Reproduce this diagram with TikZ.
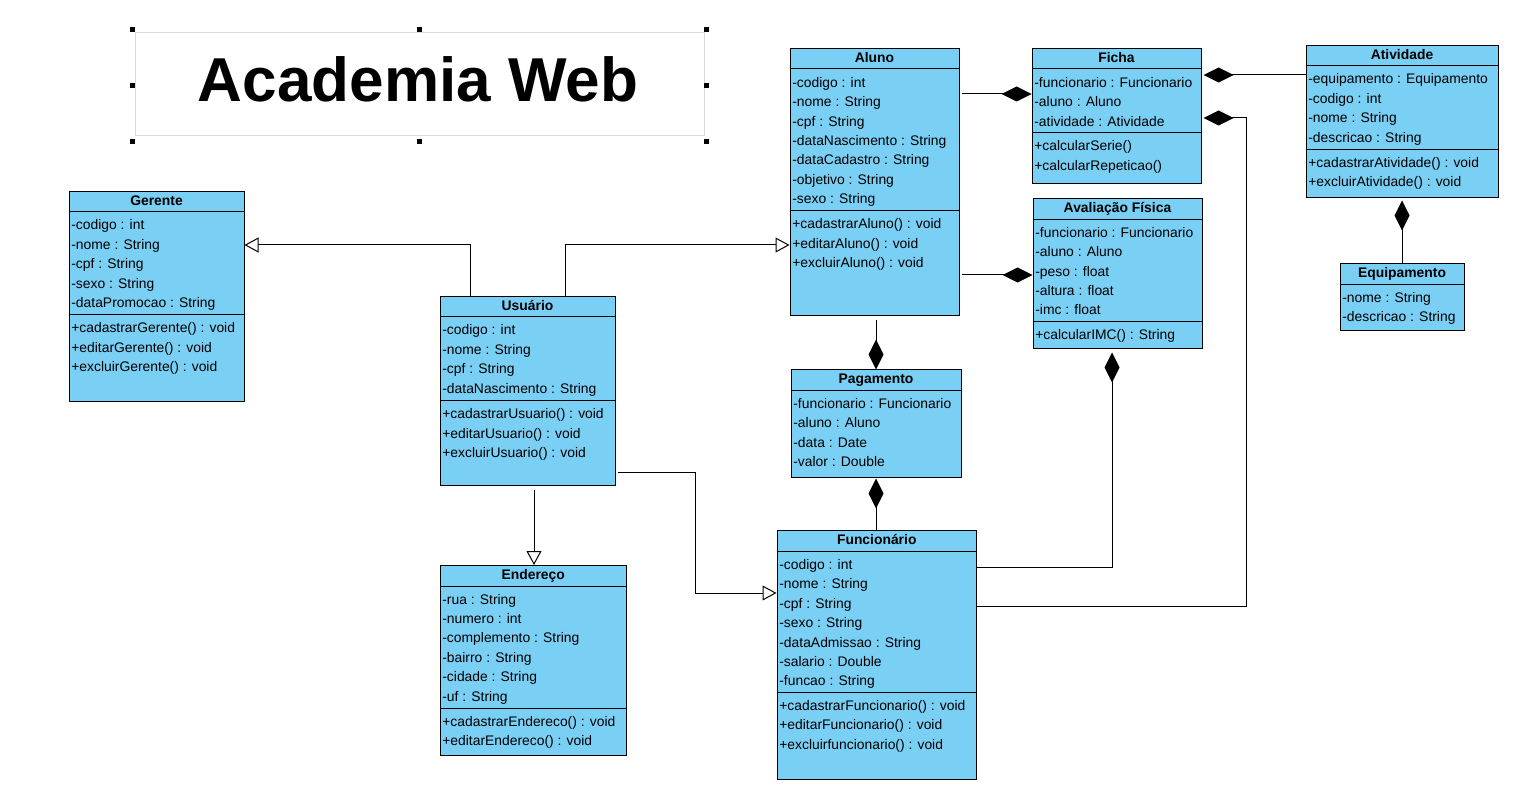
\documentclass[tikz,border=0pt]{standalone}
\usepackage{fontspec}
\setmainfont{Liberation Sans}
\usetikzlibrary{arrows.meta,calc,fit}
\definecolor{classblue}{RGB}{122,207,245}
\definecolor{framegray}{RGB}{217,217,217}
% rows of a compartment: prefix, x, first baseline, list
\newcommand{\umlrows}[4]{%
  \foreach \lbl [count=\i from 0] in {#4} {\node[row] (#1-\i) at (#2,{#3+19.4*\i}) {\lbl};}}

\begin{document}
\begin{tikzpicture}[x=0.2mm, y=-0.2mm,
    box/.style = {draw, fill=classblue, inner sep=0, line width=0.2mm},
    head/.style = {anchor=base, inner sep=0, font=\fontsize{7.9}{9}\selectfont\bfseries},
    row/.style = {anchor=base west, inner sep=0, font=\fontsize{7.9}{9}\selectfont},
    divider/.style = {line width=0.2mm},
    gen/.style = {line width=0.2mm, -{Triangle[fill=white, length=2.8mm, width=3mm]}},
    comp/.style = {line width=0.2mm, {Diamond[length=6mm, width=3mm]}-}]
    \useasboundingbox (0,0) rectangle (1517,788);
    % title
    \node[draw=framegray, line width=0.2mm, inner sep=0, fit={(135,33) (704,136)}] (frame) {};
    \node[font=\fontsize{35.3}{40}\selectfont\bfseries] (title) at (418,79) {Academia Web};
    \node[inner sep=0, fit={(133,30) (706,141)}] (handles) {};
    \foreach \a in {north west,north,north east,west,east,south west,south,south east}
        \fill (handles.\a) ++(-2.5,-2.5) rectangle ++(5,5);
    % Gerente
    \node[box, fit={(69,192) (244,402)}] (gerente) {};
    \node[head] (gerente-t) at ($(gerente.north)+(0,14.5)$) {Gerente};
    \draw[divider] (gerente.west |- 0,212) -- (gerente.east |- 0,212);
    \draw[divider] (gerente.west |- 0,315) -- (gerente.east |- 0,315);
    \umlrows{gerente-a}{71}{230}{-codigo : int, -nome : String, -cpf : String, -sexo : String, -dataPromocao : String}
    \umlrows{gerente-m}{71}{333}{+cadastrarGerente() : void, +editarGerente() : void, +excluirGerente() : void}
    % Usuario
    \node[box, fit={(440,297) (615,486)}] (usuario) {};
    \node[head] (usuario-t) at ($(usuario.north)+(0,14.5)$) {Usuário};
    \draw[divider] (usuario.west |- 0,317) -- (usuario.east |- 0,317);
    \draw[divider] (usuario.west |- 0,401) -- (usuario.east |- 0,401);
    \umlrows{usuario-a}{442}{335}{-codigo : int, -nome : String, -cpf : String, -dataNascimento : String}
    \umlrows{usuario-m}{442}{419}{+cadastrarUsuario() : void, +editarUsuario() : void, +excluirUsuario() : void}
    % Aluno
    \node[box, fit={(790,49) (959,316)}] (aluno) {};
    \node[head] (aluno-t) at ($(aluno.north)+(0,14.5)$) {Aluno};
    \draw[divider] (aluno.west |- 0,69) -- (aluno.east |- 0,69);
    \draw[divider] (aluno.west |- 0,211) -- (aluno.east |- 0,211);
    \umlrows{aluno-a}{792}{87.3}{-codigo : int, -nome : String, -cpf : String, -dataNascimento : String, -dataCadastro : String, -objetivo : String, -sexo : String}
    \umlrows{aluno-m}{792}{229}{+cadastrarAluno() : void, +editarAluno() : void, +excluirAluno() : void}
    % Ficha
    \node[box, fit={(1032,49) (1201,184)}] (ficha) {};
    \node[head] (ficha-t) at ($(ficha.north)+(0,14.5)$) {Ficha};
    \draw[divider] (ficha.west |- 0,69) -- (ficha.east |- 0,69);
    \draw[divider] (ficha.west |- 0,133) -- (ficha.east |- 0,133);
    \umlrows{ficha-a}{1034}{87.3}{-funcionario : Funcionario, -aluno : Aluno, -atividade : Atividade}
    \umlrows{ficha-m}{1034}{151}{+calcularSerie(), +calcularRepeticao()}
    % Atividade
    \node[box, fit={(1306,46) (1498,198)}] (atividade) {};
    \node[head] (atividade-t) at ($(atividade.north)+(0,14.5)$) {Atividade};
    \draw[divider] (atividade.west |- 0,66) -- (atividade.east |- 0,66);
    \draw[divider] (atividade.west |- 0,149.5) -- (atividade.east |- 0,149.5);
    \umlrows{atividade-a}{1308}{84}{-equipamento : Equipamento, -codigo : int, -nome : String, -descricao : String}
    \umlrows{atividade-m}{1308}{167.5}{+cadastrarAtividade() : void, +excluirAtividade() : void}
    % Equipamento
    \node[box, fit={(1340,264) (1464,330.5)}] (equipamento) {};
    \node[head] (equipamento-t) at ($(equipamento.north)+(0,14.5)$) {Equipamento};
    \draw[divider] (equipamento.west |- 0,284.3) -- (equipamento.east |- 0,284.3);
    \umlrows{equipamento-a}{1342}{302.3}{-nome : String, -descricao : String}
    % Avaliacao Fisica
    \node[box, fit={(1033,199) (1202,349)}] (avaliacao) {};
    \node[head] (avaliacao-t) at ($(avaliacao.north)+(0,14.5)$) {Avaliação Física};
    \draw[divider] (avaliacao.west |- 0,219.3) -- (avaliacao.east |- 0,219.3);
    \draw[divider] (avaliacao.west |- 0,322) -- (avaliacao.east |- 0,322);
    \umlrows{avaliacao-a}{1035}{237.3}{-funcionario : Funcionario, -aluno : Aluno, -peso : float, -altura : float, -imc : float}
    \umlrows{avaliacao-m}{1035}{340}{+calcularIMC() : String}
    % Pagamento
    \node[box, fit={(791,370) (961,478)}] (pagamento) {};
    \node[head] (pagamento-t) at ($(pagamento.north)+(0,14.5)$) {Pagamento};
    \draw[divider] (pagamento.west |- 0,390.5) -- (pagamento.east |- 0,390.5);
    \umlrows{pagamento-a}{793}{408.5}{-funcionario : Funcionario, -aluno : Aluno, -data : Date, -valor : Double}
    % Funcionario
    \node[box, fit={(777,530.5) (976.5,779)}] (funcionario) {};
    \node[head] (funcionario-t) at ($(funcionario.north)+(0,14.5)$) {Funcionário};
    \draw[divider] (funcionario.west |- 0,551.5) -- (funcionario.east |- 0,551.5);
    \draw[divider] (funcionario.west |- 0,692.5) -- (funcionario.east |- 0,692.5);
    \umlrows{funcionario-a}{779}{569.5}{-codigo : int, -nome : String, -cpf : String, -sexo : String, -dataAdmissao : String, -salario : Double, -funcao : String}
    \umlrows{funcionario-m}{779}{710.5}{+cadastrarFuncionario() : void, +editarFuncionario() : void, +excluirfuncionario() : void}
    % Endereco
    \node[box, fit={(440,565.5) (626.5,755)}] (endereco) {};
    \node[head] (endereco-t) at ($(endereco.north)+(0,14.5)$) {Endereço};
    \draw[divider] (endereco.west |- 0,586) -- (endereco.east |- 0,586);
    \draw[divider] (endereco.west |- 0,708.5) -- (endereco.east |- 0,708.5);
    \umlrows{endereco-a}{442}{604}{-rua : String, -numero : int, -complemento : String, -bairro : String, -cidade : String, -uf : String}
    \umlrows{endereco-m}{442}{726.5}{+cadastrarEndereco() : void, +editarEndereco() : void}
    % generalizations
    \draw[gen] (usuario.north -| 470,0) |- (gerente.east |- 0,245);
    \draw[gen] (usuario.north -| 565,0) |- (aluno.west |- 0,245);
    \draw[gen, shorten <=0.8mm] (usuario.south -| 534,0) -- (endereco.north -| 534,0);
    \draw[gen, shorten <=0.4mm] (usuario.east |- 0,473) -- ++(80,0) |- (funcionario.west |- 0,593);
    % compositions
    \draw[comp, shorten >=0.4mm] (ficha.west |- 0,94) -- (aluno.east |- 0,94);
    \draw[comp, shorten >=0.4mm] (avaliacao.west |- 0,275) -- (aluno.east |- 0,275);
    \draw[comp, shorten >=0.8mm] (pagamento.north) -- (aluno.south -| pagamento.north);
    \draw[comp] (pagamento.south) -- (funcionario.north -| pagamento.south);
    \draw[comp, shorten <=0.6mm] (avaliacao.south -| 1112,0) |- (funcionario.east |- 0,567);
    \draw[comp, shorten <=0.4mm] (ficha.east |- 0,118) -- ++(45,0) |- (funcionario.east |- 0,606);
    \draw[comp, shorten <=0.4mm] (ficha.east |- 0,75) -- (atividade.west |- 0,75);
    \draw[comp, shorten <=0.4mm] (atividade.south) -- (equipamento.north);
\end{tikzpicture}
\end{document}
